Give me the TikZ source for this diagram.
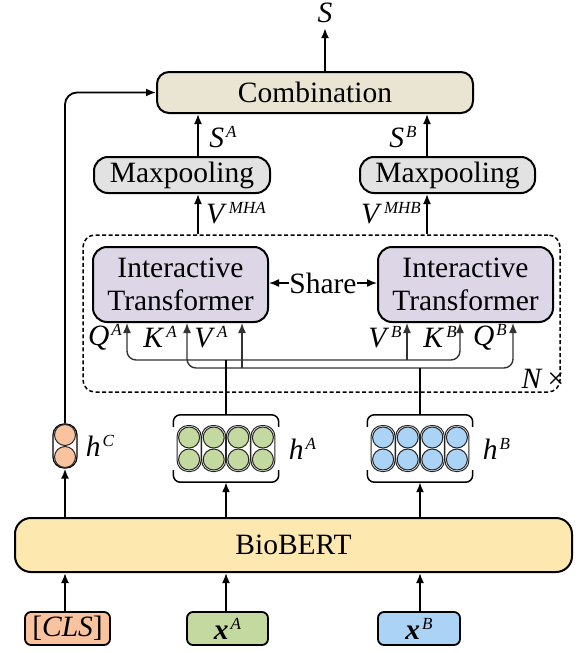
\documentclass[tikz,border=0pt]{standalone}
\usepackage{fontspec}
\setmainfont{Liberation Serif}
\usepackage{xcolor}
\usepackage{tikz}
\usetikzlibrary{positioning, arrows.meta, calc}
\definecolor{combbeige}{HTML}{EAE5D3}
\definecolor{poolgray}{HTML}{E2E2E2}
\definecolor{translilac}{HTML}{DDD6E6}
\definecolor{bertyellow}{HTML}{FDE9B0}
\definecolor{clsorange}{HTML}{F8C39E}
\definecolor{agreen}{HTML}{C4D9A0}
\definecolor{bblue}{HTML}{ABD3F5}
\newcommand{\vsup}[2]{\textit{#1}\hspace{2pt}\raisebox{10pt}{\fontsize{17}{17}\selectfont\textit{#2}}}

\begin{document}
\begin{tikzpicture}[x=1pt, y=-1pt, font=\fontsize{29.5}{33}\selectfont,
  >={Latex[length=10pt, width=8pt]},
  box/.style={draw, line width=2pt, rounded corners=12pt, inner sep=0pt, align=center},
  flow/.style={->, line width=1.8pt},
  qkv/.style={line width=1.4pt, draw=black!80, rounded corners=9pt},
  lab/.style={inner sep=0pt},
  cell/.style={draw=black!85, line width=1pt}]
  \useasboundingbox (0,0) rectangle (579,653);

  % top part
  \node[box, fill=combbeige, minimum width=316pt, minimum height=41pt] (comb) at (315,92.5) {Combination};
  \node[lab] (out) at (325,13) {\textit{S}};
  \node[box, fill=poolgray, rounded corners=14pt, minimum width=176pt, minimum height=36pt] (maxA) at (182,175) {Maxpooling};
  \node[box, fill=poolgray, rounded corners=14pt, minimum width=175pt, minimum height=36pt] (maxB) at (447.5,175) {Maxpooling};
  \coordinate (colA) at (198,0);
  \coordinate (colB) at (427,0);

  % N x interactive layer
  \node[draw, line width=1.5pt, dash pattern=on 4pt off 2.5pt, rounded corners=12pt,
        minimum width=477pt, minimum height=157pt] (layer) at (321.5,313.5) {};
  \node[box, fill=translilac, rounded corners=14pt, minimum width=175pt, minimum height=75pt] (itA) at (180.5,284.5) {Interactive\\Transformer};
  \node[box, fill=translilac, rounded corners=14pt, minimum width=175pt, minimum height=75pt] (itB) at (465.5,284.5) {Interactive\\Transformer};
  \node[lab] (share) at (323,283) {Share};
  \node[lab] (times) at (543,379) {\textit{N}\,×};

  % query / key / value labels
  \node[lab] (qA) at (105,337) {\vsup{Q}{A}};
  \node[lab] (kA) at (160,337) {\vsup{K}{A}};
  \node[lab] (vA) at (211,337) {\vsup{V}{A}};
  \node[lab] (vB) at (385,337) {\vsup{V}{B}};
  \node[lab] (kB) at (440,337) {\vsup{K}{B}};
  \node[lab] (qB) at (490,337) {\vsup{Q}{B}};
  \coordinate (up) at (0,360);
  \coordinate (lo) at (0,368);

  % hidden states
  \node[draw, line width=1.2pt, rounded corners=11pt, minimum width=24pt, minimum height=44pt, inner sep=0pt] (hC) at (65,446) {};
  \foreach \dy in {-11,11}
    \draw[cell, fill=clsorange] ($(hC.center)+(0,\dy)$) circle (10.5pt);
  \node[lab, right=8pt of hC] (hClab) {\vsup{h}{C}};

  \node[minimum width=105pt, minimum height=67pt, inner sep=0pt] (hA) at (226,448.5) {};
  \node[minimum width=105pt, minimum height=67pt, inner sep=0pt] (hB) at (420,448.5) {};
  \foreach \h/\col in {hA/agreen, hB/bblue} {
    \draw[line width=1.5pt, rounded corners=7pt] ([yshift=-12pt]\h.north west) |- (\h.north) -| ([yshift=-12pt]\h.north east);
    \draw[line width=1.5pt, rounded corners=7pt] ([yshift=12pt]\h.south west) |- (\h.south) -| ([yshift=12pt]\h.south east);
    \foreach \dx in {-36.9,-12.3,12.3,36.9} {
      \draw[cell, rounded corners=11pt] ($(\h.center)+(\dx-12,-23)$) rectangle ($(\h.center)+(\dx+12,23)$);
      \foreach \dy in {-11,11}
        \draw[cell, fill=\col] ($(\h.center)+(\dx,\dy)$) circle (10.5pt);
    }
  }
  \node[lab, right=10pt of hA] (hAlab) {\vsup{h}{A}};
  \node[lab, right=10pt of hB] (hBlab) {\vsup{h}{B}};

  % encoder and inputs
  \node[box, fill=bertyellow, rounded corners=16pt, minimum width=557pt, minimum height=54pt] (bert) at (293.5,545) {BioBERT};
  \node[box, fill=clsorange, line width=1.8pt, rounded corners=6pt, minimum width=85pt, minimum height=33pt] (cls) at (67.5,628.5) {[\textit{CLS}]};
  \node[box, fill=agreen, line width=1.8pt, rounded corners=6pt, minimum width=81pt, minimum height=33pt] (xA) at (227.5,628.5) {\vsup{\textbf{x}}{A}};
  \node[box, fill=bblue, line width=1.8pt, rounded corners=6pt, minimum width=82pt, minimum height=33pt] (xB) at (419,628.5) {\vsup{\textbf{x}}{B}};

  % connectors
  \draw[flow] (comb.north -| out.south) -- ([yshift=-5pt]out.south);
  \draw[flow] (colA |- maxA.north) -- (colA |- comb.south);
  \draw[flow] (colB |- maxB.north) -- (colB |- comb.south);
  \draw[flow] (colA |- layer.north) -- (colA |- maxA.south);
  \draw[flow] (colB |- layer.north) -- (colB |- maxB.south);
  \node[lab] (sA) at (223,137) {\vsup{S}{A}};
  \node[lab] (sB) at (403,137) {\vsup{S}{B}};
  \node[lab] (vmA) at (236,213) {\vsup{V}{MHA}};
  \node[lab] (vmB) at (391,213) {\vsup{V}{MHB}};
  \draw[->, line width=1.5pt] (share.west) -- (share.west -| itA.east);
  \draw[->, line width=1.5pt] (share.east) -- (share.east -| itB.west);

  \draw[qkv, <->] (itA.south -| 127,0) -- (127,0 |- up) -- (460,0 |- up) -- (itB.south -| 460,0);
  \draw[qkv, <->] (itA.south -| 187,0) -- (187,0 |- lo) -- (513,0 |- lo) -- (itB.south -| 513,0);
  \draw[qkv, ->] (242,0 |- lo) -- (itA.south -| 242,0);
  \draw[qkv, ->] (407,0 |- up) -- (itB.south -| 407,0);
  \draw[line width=1.5pt] (hA.north) -- (hA.north |- up);
  \draw[line width=1.5pt] (hB.north) -- (hB.north |- lo);

  \draw[flow, rounded corners=12pt] (hC.north) |- (comb.west);
  \foreach \h in {hC, hA, hB}
    \draw[flow] (bert.north -| \h.south) -- (\h.south);
  \draw[flow] (cls.north -| hC.south) -- (bert.south -| hC.south);
  \draw[flow] (xA.north -| hA.south) -- (bert.south -| hA.south);
  \draw[flow] (xB.north -| hB.south) -- (bert.south -| hB.south);
\end{tikzpicture}
\end{document}
